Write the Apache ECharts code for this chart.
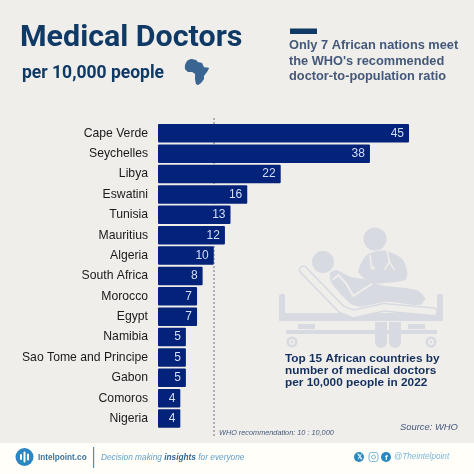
<!DOCTYPE html>
<html><head><meta charset="utf-8">
<style>html,body{margin:0;padding:0;background:#f0eeeb}#c{width:474px;height:474px}</style>
<script src="https://cdn.jsdelivr.net/npm/echarts@6/dist/echarts.min.js"></script>
</head><body><div id="c"></div>
<script>
const categories = ["Cape Verde","Seychelles","Libya","Eswatini","Tunisia","Mauritius","Algeria","South Africa","Morocco","Egypt","Namibia","Sao Tome and Principe","Gabon","Comoros","Nigeria"];
const doctors = [45,38,22,16,13,12,10,8,7,7,5,5,5,4,4];
const whoRecommendation = 10;
const axisMax = 45;

const F = '"Liberation Sans"';
const NAVY = '#0f3a66', SLATE = '#44597a', ICON = '#d8dae2', BG = '#f0eeeb';
const text = (x,y,t,size,weight,fill,extra={}) => ({type:'text',silent:true,z:10,style:Object.assign({x,y,text:t,font:`${extra.italic?'italic ':''}${weight} ${size}px ${extra.family||F}`,fill,textVerticalAlign:'middle',textBaseline:'middle'},extra.style||{})});
const z = (x,y) => [270+x/3,220+y/3];
const poly = (pts,fill) => ({type:'polygon',silent:true,z:3,shape:{points:pts.map(p=>z(p[0],p[1])),smooth:0.25},style:{fill}});
const line = (pts,stroke,w) => ({type:'polyline',silent:true,z:4,shape:{points:pts.map(p=>z(p[0],p[1]))},style:{stroke,lineWidth:w,fill:'none',lineJoin:'round',lineCap:'round'}});
const rect = (x,y,w,h,fill,r=0,zz=3) => ({type:'rect',silent:true,z:zz,shape:{x,y,width:w,height:h,r},style:{fill}});
const circ = (cx,cy,r,fill,zz=3) => ({type:'circle',silent:true,z:zz,shape:{cx,cy,r},style:{fill}});

const graphics = [
  rect(0,443,474,31,'#fffef9',0,1),
  text(20,38,'Medical Doctors',30.4,'bold',NAVY,{family:'Roboto'}),
  text(22,74,'per 10,000 people',17.5,'bold',NAVY,{family:'Roboto'}),
  {type:'polygon',silent:true,z:3,shape:{smooth:0.15,points:[[185,65],[187,61],[191,59],[196,60],[198,62],[202,63],[204,67],[209,68],[207,72],[204,76],[204,79],[201,83],[198,85],[196,84],[195,79],[195,74],[192,72],[188,72],[185,69]]},style:{fill:'#3a6491'}},
  rect(290,28.5,27,5.5,NAVY),
  text(289,45.5,'Only 7 African nations meet',12.8,'bold',SLATE),
  text(289,61,"the WHO's recommended",12.8,'bold',SLATE),
  text(289,76.5,'doctor-to-population ratio',12.8,'bold',SLATE),
  rect(279,294,6,27,ICON,2), rect(437,294,6,27,ICON,2),
  rect(279,313,164,8,ICON,1),
  rect(286,330,151,4,ICON),
  rect(375,322,12,26,ICON,[0,0,6,6]), rect(389,322,12,26,ICON,[0,0,6,6]),
  rect(298,324,17,5,ICON), rect(408,324,17,5,ICON),
  circ(292,342,5.5,ICON), circ(292,342,3,BG,4), circ(292,342,1.3,ICON,5),
  circ(431,342,5.5,ICON), circ(431,342,3,BG,4), circ(431,342,1.3,ICON,5),
  circ(375,239,11.5,ICON), circ(323,262,11,ICON),
  poly([[265,155],[290,105],[345,92],[395,115],[412,155],[405,180],[340,190],[320,190],[290,180]],ICON),
  line([[300,105],[305,145]],BG,1.5), line([[352,95],[358,125],[345,148]],BG,1.5), line([[358,125],[372,148]],BG,1.5),
  circ(373,268,1.8,BG,5),
  poly([[180,160],[200,150],[240,170],[300,180],[330,195],[440,210],[465,235],[450,255],[350,245],[270,260],[240,250],[185,190]],ICON),
  line([[190,178],[205,165],[228,190],[250,228],[305,192]],BG,2),
  line([[100,150],[215,268],[250,282],[340,262],[490,275]],ICON,9),
  line([[100,150],[215,268],[250,282],[340,262],[490,275]],BG,6),
  text(285,359,'Top 15 African countries by',11.8,'bold','#14305f'),
  text(285,371,'number of medical doctors',11.8,'bold','#14305f'),
  text(285,383,'per 10,000 people in 2022',11.8,'bold','#14305f'),
  text(400,427,'Source: WHO',9.4,'normal',SLATE,{italic:true}),
  text(219,433,'WHO recommendation: 10 : 10,000',7.3,'normal',SLATE,{italic:true}),
  circ(24.5,457,9,'#2a87c0'),
  rect(20,454,2,6,'#fff',1,4), rect(23.5,451.5,2,11,'#fff',1,4), rect(27,453.5,2,7,'#fff',1,4),
  text(38,458,'Intelpoint.co',8.2,'bold','#3a76a3'),
  rect(93,447,1.2,21,'#4a90c0'),
  {type:'text',silent:true,z:10,style:{x:101,y:458,text:'{a|Decision making }{b|insights}{a| for everyone}',textVerticalAlign:'middle',textBaseline:'middle',
    rich:{a:{font:`italic 8.3px ${F}`,fill:'#62a0c8'},b:{font:`italic bold 8.3px ${F}`,fill:'#2f6b99'}}}},
  circ(359,457,5,'#2a87c0'),
  text(356.5,457,'𝕏',6.5,'bold','#fff'),
  {type:'rect',silent:true,z:3,shape:{x:369,y:452.5,width:9,height:9,r:2.5},style:{fill:'none',stroke:'#7db8dc',lineWidth:1}},
  {type:'circle',silent:true,z:3,shape:{cx:373.5,cy:457,r:2},style:{fill:'none',stroke:'#7db8dc',lineWidth:1}},
  circ(386,457,5,'#2a87c0'),
  text(385,457.5,'f',8,'bold','#fff'),
  text(394,457,'@Theintelpoint',8.2,'normal','#7db8dc',{italic:true})
];

const chart = echarts.init(document.getElementById('c'),null,{renderer:'canvas'});
chart.setOption({
  backgroundColor:BG,
  animation:false,
  grid:[
    {left:158,top:123.1,width:251,height:305.7},
    {left:158,top:117,width:251,height:319}
  ],
  xAxis:[
    {type:'value',gridIndex:0,min:0,max:axisMax,show:false},
    {type:'value',gridIndex:1,min:0,max:axisMax,show:false}
  ],
  yAxis:[
    {type:'category',gridIndex:0,inverse:true,data:categories,
     axisLine:{show:false},axisTick:{show:false},
     axisLabel:{color:'#1a1a1a',fontFamily:F,fontSize:12.2,margin:10}},
    {type:'value',gridIndex:1,min:0,max:1,show:false}
  ],
  series:[
    {type:'line',xAxisIndex:1,yAxisIndex:1,data:[],z:1,silent:true,
     markLine:{silent:true,z:1,symbol:'none',label:{show:false},
       lineStyle:{color:'#a6a9b0',type:[2,2],width:1.8},
       data:[{xAxis:whoRecommendation}]}},
    {type:'bar',xAxisIndex:0,yAxisIndex:0,data:doctors,z:2,barWidth:18.5,
     itemStyle:{color:'#03227a',borderRadius:1},
     label:{show:true,position:'insideRight',distance:5,color:'#d5dff5',fontFamily:F,fontSize:12}}
  ],
  graphic:graphics
});
</script></body></html>
